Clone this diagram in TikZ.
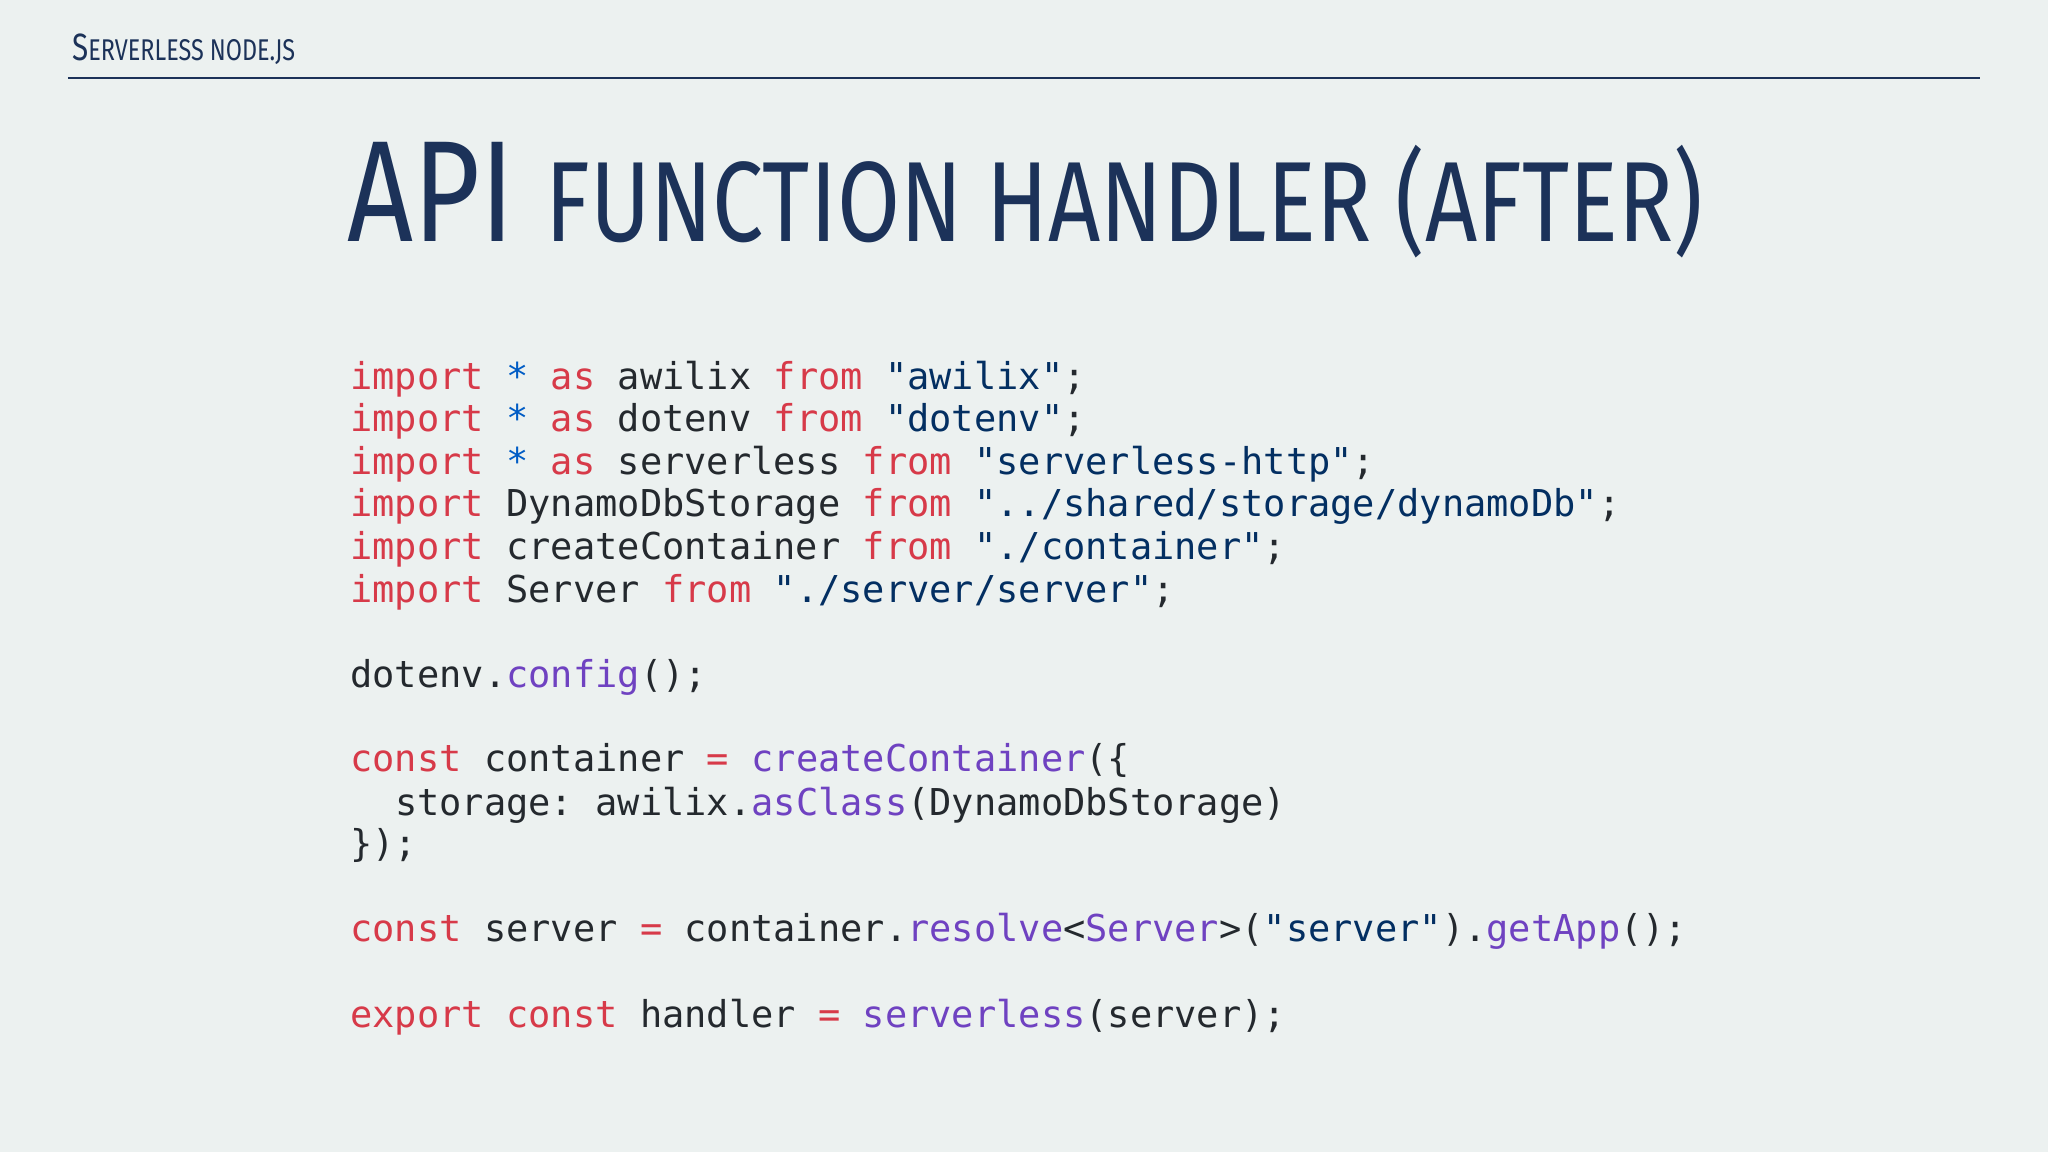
\documentclass[tikz,border=0pt]{standalone}
\usepackage{fontspec}
\setmainfont{Fira Sans}
\setmonofont{DejaVu Sans Mono}
\definecolor{bg}{HTML}{ECF1F0}
\definecolor{navy}{HTML}{1C3259}
\definecolor{kwc}{HTML}{D73A49}
\definecolor{stc}{HTML}{032F62}
\definecolor{fnc}{HTML}{6F42C1}
\definecolor{blc}{HTML}{005CC5}
\definecolor{txc}{HTML}{24292E}
\newcommand{\kw}[1]{\textcolor{kwc}{#1}}
\newcommand{\st}[1]{\textcolor{stc}{#1}}
\newcommand{\fn}[1]{\textcolor{fnc}{#1}}
\newcommand{\bl}[1]{\textcolor{blc}{#1}}
\begin{document}
\begin{tikzpicture}[x=0.653pt,y=-0.653pt,
  code/.style={anchor=base west,inner sep=0pt,font=\ttfamily\fontsize{18.5pt}{20pt}\selectfont,text=txc}]
\fill[bg] (0,0) rectangle (1568,882);
\node[anchor=base west,inner sep=0pt,text=navy] (hdr) at (55,46)
  {\scalebox{0.78}[1]{\fontsize{19pt}{20pt}\selectfont S\fontsize{15pt}{16pt}\selectfont ERVERLESS NODE.JS}};
\coordinate (l1) at (52,60); \coordinate (l2) at (1516,60);
\draw[navy,line width=1pt] (l1) -- (l2);
\node[anchor=base,inner sep=0pt,text=navy] (title) at (785,185)
  {\scalebox{0.8}[1]{\fontsize{72pt}{74pt}\selectfont API \fontsize{57pt}{60pt}\selectfont FUNCTION HANDLER (AFTER)}};
\node[code] (c1) at (268,298) {\kw{import} \bl{*} \kw{as} awilix \kw{from} \st{"awilix"};};
\node[code] (c2) at (268,330.6) {\kw{import} \bl{*} \kw{as} dotenv \kw{from} \st{"dotenv"};};
\node[code] (c3) at (268,363.2) {\kw{import} \bl{*} \kw{as} serverless \kw{from} \st{"serverless-http"};};
\node[code] (c4) at (268,395.8) {\kw{import} DynamoDbStorage \kw{from} \st{"../shared/storage/dynamoDb"};};
\node[code] (c5) at (268,428.4) {\kw{import} createContainer \kw{from} \st{"./container"};};
\node[code] (c6) at (268,461) {\kw{import} Server \kw{from} \st{"./server/server"};};
\node[code] (c7) at (268,526) {dotenv.\fn{config}();};
\node[code] (c8) at (268,591) {\kw{const} container \kw{=} \fn{createContainer}(\{};
\node[code] (c9) at (268,624) {\phantom{xx}storage: awilix.\fn{asClass}(DynamoDbStorage)};
\node[code] (c10) at (268,656) {\});};
\node[code] (c11) at (268,721) {\kw{const} server \kw{=} container.\fn{resolve}<\fn{Server}>(\st{"server"}).\fn{getApp}();};
\node[code] (c12) at (268,787) {\kw{export} \kw{const} handler \kw{=} \fn{serverless}(server);};
\end{tikzpicture}
\end{document}
